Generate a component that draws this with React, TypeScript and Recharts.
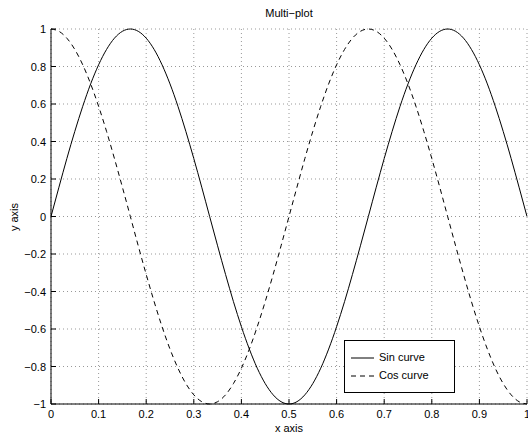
import React from 'react';
import { LineChart, Line, XAxis, YAxis, CartesianGrid, Legend } from 'recharts';

const xValues = [0, 0.0167, 0.0333, 0.05, 0.0667, 0.0833, 0.1, 0.1167, 0.1333, 0.15, 0.1667, 0.1833, 0.2, 0.2167, 0.2333, 0.25, 0.2667, 0.2833, 0.3, 0.3167, 0.3333, 0.35, 0.3667, 0.3833, 0.4, 0.4167, 0.4333, 0.45, 0.4667, 0.4833, 0.5, 0.5167, 0.5333, 0.55, 0.5667, 0.5833, 0.6, 0.6167, 0.6333, 0.65, 0.6667, 0.6833, 0.7, 0.7167, 0.7333, 0.75, 0.7667, 0.7833, 0.8, 0.8167, 0.8333, 0.85, 0.8667, 0.8833, 0.9, 0.9167, 0.9333, 0.95, 0.9667, 0.9833, 1];

const sinValues = [0, 0.1564, 0.309, 0.454, 0.5878, 0.7071, 0.809, 0.891, 0.9511, 0.9877, 1, 0.9877, 0.9511, 0.891, 0.809, 0.7071, 0.5878, 0.454, 0.309, 0.1564, 0, -0.1564, -0.309, -0.454, -0.5878, -0.7071, -0.809, -0.891, -0.9511, -0.9877, -1, -0.9877, -0.9511, -0.891, -0.809, -0.7071, -0.5878, -0.454, -0.309, -0.1564, 0, 0.1564, 0.309, 0.454, 0.5878, 0.7071, 0.809, 0.891, 0.9511, 0.9877, 1, 0.9877, 0.9511, 0.891, 0.809, 0.7071, 0.5878, 0.454, 0.309, 0.1564, 0];

const cosValues = [1, 0.9877, 0.9511, 0.891, 0.809, 0.7071, 0.5878, 0.454, 0.309, 0.1564, 0, -0.1564, -0.309, -0.454, -0.5878, -0.7071, -0.809, -0.891, -0.9511, -0.9877, -1, -0.9877, -0.9511, -0.891, -0.809, -0.7071, -0.5878, -0.454, -0.309, -0.1564, 0, 0.1564, 0.309, 0.454, 0.5878, 0.7071, 0.809, 0.891, 0.9511, 0.9877, 1, 0.9877, 0.9511, 0.891, 0.809, 0.7071, 0.5878, 0.454, 0.309, 0.1564, 0, -0.1564, -0.309, -0.454, -0.5878, -0.7071, -0.809, -0.891, -0.9511, -0.9877, -1];

const xTicks = [0, 0.1, 0.2, 0.3, 0.4, 0.5, 0.6, 0.7, 0.8, 0.9, 1];
const yTicks = [-1, -0.8, -0.6, -0.4, -0.2, 0, 0.2, 0.4, 0.6, 0.8, 1];

const data = xValues.map((x, i) => ({ x, sin: sinValues[i], cos: cosValues[i] }));

const FONT = 'Liberation Sans, Arial, Helvetica, sans-serif';
const fmt = (v: number) => {
  const s = String(Math.round(v * 10) / 10);
  return s.replace('-', '\u2212');
};

const BottomTick = (props: any) => {
  const { x, y, payload } = props;
  return (
    <g>
      <line x1={x} y1={y} x2={x} y2={y - 5} stroke="#000" strokeWidth={1} />
      <text x={x} y={y + 14} textAnchor="middle" fontSize={11} fontFamily={FONT} fill="#000">{fmt(payload.value)}</text>
    </g>
  );
};
const TopTick = (props: any) => {
  const { x, y } = props;
  return <line x1={x} y1={y} x2={x} y2={y + 5} stroke="#000" strokeWidth={1} />;
};
const LeftTick = (props: any) => {
  const { x, y, payload } = props;
  return (
    <g>
      <line x1={x} y1={y} x2={x + 5} y2={y} stroke="#000" strokeWidth={1} />
      <text x={x - 5} y={y + 4} textAnchor="end" fontSize={11} fontFamily={FONT} fill="#000">{fmt(payload.value)}</text>
    </g>
  );
};
const RightTick = (props: any) => {
  const { x, y } = props;
  return <line x1={x} y1={y} x2={x - 5} y2={y} stroke="#000" strokeWidth={1} />;
};

const LegendBox = () => (
  <div style={{ width: 111, height: 53, boxSizing: 'border-box', border: '1px solid #000', background: '#fff', fontFamily: FONT, fontSize: 11, color: '#000', position: 'relative' }}>
    <svg width={30} height={53} style={{ position: 'absolute', left: 0, top: 0 }}>
      <line x1={6} y1={17} x2={29} y2={17} stroke="#000" strokeWidth={1} />
      <line x1={6} y1={35} x2={29} y2={35} stroke="#000" strokeWidth={1} strokeDasharray="5 4" />
    </svg>
    <div style={{ position: 'absolute', left: 34, top: 10, lineHeight: '13px' }}>Sin curve</div>
    <div style={{ position: 'absolute', left: 34, top: 28, lineHeight: '13px' }}>Cos curve</div>
  </div>
);

export default function App() {
  return (
    <div style={{ position: 'absolute', left: 0, top: 0, width: 528, height: 434, background: '#fff' }}>
      <LineChart width={528} height={434} data={data} margin={{ top: 29, right: 1, bottom: 0, left: 0 }}>
        <CartesianGrid stroke="#999" strokeDasharray="1 3" strokeWidth={1} />
        <XAxis dataKey="x" type="number" domain={[0, 1]} ticks={xTicks} height={30} tickSize={0} tickMargin={0} tick={<BottomTick />} stroke="#000" interval={0} />
        <XAxis xAxisId="top" orientation="top" dataKey="x" type="number" domain={[0, 1]} ticks={xTicks} height={0} tickSize={0} tickMargin={0} tick={<TopTick />} stroke="#000" interval={0} />
        <YAxis type="number" domain={[-1, 1]} ticks={yTicks} width={51} tickSize={0} tickMargin={0} tick={<LeftTick />} stroke="#000" interval={0} />
        <YAxis yAxisId="right" orientation="right" type="number" domain={[-1, 1]} ticks={yTicks} width={0} tickSize={0} tickMargin={0} tick={<RightTick />} stroke="#000" interval={0} />
        <Legend layout="horizontal" verticalAlign="middle" align="center" content={<LegendBox />} wrapperStyle={{ position: 'absolute', left: 344, top: 340, width: 111, height: 53 }} />
        <Line type="monotone" dataKey="sin" stroke="#000" strokeWidth={1} dot={false} isAnimationActive={false} />
        <Line type="monotone" dataKey="cos" stroke="#000" strokeWidth={1} strokeDasharray="5 4" dot={false} isAnimationActive={false} />
      </LineChart>
      <svg width={528} height={434} style={{ position: 'absolute', left: 0, top: 0, pointerEvents: 'none' }}>
        <text x={289} y={17} textAnchor="middle" fontSize={11} fontFamily={FONT} fill="#000">Multi{'\u2212'}plot</text>
        <text x={289} y={432} textAnchor="middle" fontSize={11} fontFamily={FONT} fill="#000">x axis</text>
        <text x={18} y={217} textAnchor="middle" fontSize={11} fontFamily={FONT} fill="#000" transform="rotate(-90 18 217)">y axis</text>
      </svg>
    </div>
  );
}
